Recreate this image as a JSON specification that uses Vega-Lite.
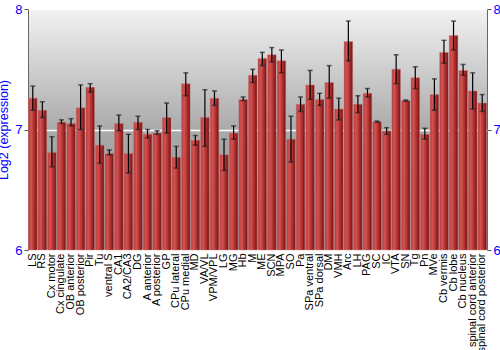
{
  "$schema": "https://vega.github.io/schema/vega-lite/v6.json",
  "autosize": "none",
  "padding": {"left": 28, "top": 9, "right": 13, "bottom": 100},
  "width": 459,
  "height": 241,
  "config": {
    "view": {
      "stroke": "#666666",
      "strokeWidth": 1,
      "fill": {"gradient": "linear", "x1": 0, "y1": 0, "x2": 0, "y2": 1,
        "stops": [{"offset": 0, "color": "#f2f2f2"}, {"offset": 0.5, "color": "#aaaaaa"}, {"offset": 1, "color": "#8c8c8c"}]}
    },
    "font": "Liberation Sans"
  },
  "data": {"values": [
    {"region": "LS", "value": 7.26, "lo": 7.16, "hi": 7.36},
    {"region": "RS", "value": 7.16, "lo": 7.10, "hi": 7.23},
    {"region": "Cx motor", "value": 6.81, "lo": 6.69, "hi": 6.94},
    {"region": "Cx cingulate", "value": 7.06, "lo": 7.05, "hi": 7.08},
    {"region": "OB anterior", "value": 7.05, "lo": 7.03, "hi": 7.09},
    {"region": "OB posterior", "value": 7.18, "lo": 7.0, "hi": 7.37},
    {"region": "Pir", "value": 7.35, "lo": 7.31, "hi": 7.38},
    {"region": "Tu", "value": 6.87, "lo": 6.72, "hi": 7.03},
    {"region": "ventral S", "value": 6.80, "lo": 6.79, "hi": 6.83},
    {"region": "CA1", "value": 7.05, "lo": 6.99, "hi": 7.12},
    {"region": "CA2/CA3", "value": 6.80, "lo": 6.64, "hi": 6.96},
    {"region": "DG", "value": 7.06, "lo": 7.0, "hi": 7.11},
    {"region": "A anterior", "value": 6.96, "lo": 6.93, "hi": 7.0},
    {"region": "A posterior", "value": 6.97, "lo": 6.96, "hi": 6.99},
    {"region": "GP", "value": 7.10, "lo": 6.97, "hi": 7.22},
    {"region": "CPu lateral", "value": 6.77, "lo": 6.68, "hi": 6.86},
    {"region": "CPu medial", "value": 7.38, "lo": 7.28, "hi": 7.47},
    {"region": "MD", "value": 6.91, "lo": 6.87, "hi": 6.95},
    {"region": "VA/VL", "value": 7.10, "lo": 6.86, "hi": 7.33},
    {"region": "VPM/VPL", "value": 7.26, "lo": 7.20, "hi": 7.32},
    {"region": "LG", "value": 6.79, "lo": 6.66, "hi": 6.92},
    {"region": "MG", "value": 6.97, "lo": 6.92, "hi": 7.03},
    {"region": "Hb", "value": 7.25, "lo": 7.24, "hi": 7.27},
    {"region": "M", "value": 7.45, "lo": 7.39, "hi": 7.50},
    {"region": "ME", "value": 7.59, "lo": 7.53, "hi": 7.64},
    {"region": "SCN", "value": 7.62, "lo": 7.56, "hi": 7.68},
    {"region": "MPA", "value": 7.57, "lo": 7.47, "hi": 7.66},
    {"region": "SO", "value": 6.92, "lo": 6.73, "hi": 7.11},
    {"region": "Pa", "value": 7.21, "lo": 7.15, "hi": 7.27},
    {"region": "SPa ventral", "value": 7.37, "lo": 7.25, "hi": 7.49},
    {"region": "SPa dorsal", "value": 7.25, "lo": 7.20, "hi": 7.30},
    {"region": "DM", "value": 7.39, "lo": 7.26, "hi": 7.53},
    {"region": "VMH", "value": 7.17, "lo": 7.08, "hi": 7.26},
    {"region": "Arc", "value": 7.73, "lo": 7.57, "hi": 7.90},
    {"region": "LH", "value": 7.21, "lo": 7.14, "hi": 7.28},
    {"region": "PAG", "value": 7.30, "lo": 7.27, "hi": 7.34},
    {"region": "SC", "value": 7.065, "lo": 7.06, "hi": 7.07},
    {"region": "IC", "value": 6.99, "lo": 6.96, "hi": 7.015},
    {"region": "VTA", "value": 7.50, "lo": 7.38, "hi": 7.62},
    {"region": "SN", "value": 7.24, "lo": 7.235, "hi": 7.245},
    {"region": "Tg", "value": 7.43, "lo": 7.34, "hi": 7.52},
    {"region": "Pn", "value": 6.96, "lo": 6.92, "hi": 7.01},
    {"region": "MVe", "value": 7.29, "lo": 7.16, "hi": 7.42},
    {"region": "Cb vermis", "value": 7.64, "lo": 7.55, "hi": 7.74},
    {"region": "Cb lobe", "value": 7.78, "lo": 7.66, "hi": 7.90},
    {"region": "Cb nucleus", "value": 7.49, "lo": 7.45, "hi": 7.54},
    {"region": "spinal cord anterior", "value": 7.32, "lo": 7.17, "hi": 7.47},
    {"region": "spinal cord posterior", "value": 7.22, "lo": 7.15, "hi": 7.29}
  ]},
  "encoding": {
    "x": {
      "field": "region", "type": "nominal", "sort": null,
      "scale": {"paddingInner": 0.1, "paddingOuter": 0.05},
      "axis": {"title": null, "labelAngle": -90, "labelColor": "black", "labelFontSize": 11,
        "ticks": false, "domain": false, "labelPadding": 3}
    }
  },
  "layer": [
    {
      "mark": {"type": "bar", "stroke": "#d08080", "strokeWidth": 0.6, "strokeOpacity": 0.7,
        "fill": {"gradient": "linear", "x1": 0, "y1": 0, "x2": 1, "y2": 0,
          "stops": [{"offset": 0, "color": "#b53a3a"}, {"offset": 0.3, "color": "#d45252"}, {"offset": 0.7, "color": "#a82a2a"}, {"offset": 1, "color": "#701010"}]}},
      "encoding": {
        "y": {"field": "value", "type": "quantitative",
          "scale": {"domain": [6, 8], "zero": false, "nice": false},
          "axis": {"title": "Log2 (expression)", "titleColor": "blue", "titleFont": "Liberation Sans", "titleFontWeight": "normal", "titleFontSize": 12.5, "titlePadding": 4,
            "tickCount": 2, "format": "d", "labelColor": "blue", "labelFontSize": 13, "tickColor": "#555555", "tickSize": 4, "domain": false,
            "grid": true, "gridColor": "white", "gridWidth": 1.5, "gridOpacity": 1, "labelPadding": 2, "labelOverlap": false}},
        "y2": {"datum": 6}
      }
    },
    {
      "mark": {"type": "rule", "color": "black", "strokeWidth": 1.2},
      "encoding": {
        "y": {"field": "lo", "type": "quantitative", "scale": {"domain": [6, 8], "zero": false, "nice": false},
          "axis": {"orient": "right", "title": null, "tickCount": 2, "format": "d", "labelColor": "blue", "labelFontSize": 13, "tickColor": "#555555", "tickSize": 4, "domain": false, "grid": false, "labelPadding": 2, "labelOverlap": false}},
        "y2": {"field": "hi"}
      }
    },
    {
      "mark": {"type": "tick", "color": "#222222", "size": 5, "thickness": 1.5},
      "encoding": {"y": {"field": "lo", "type": "quantitative", "axis": null}}
    },
    {
      "mark": {"type": "tick", "color": "#222222", "size": 5, "thickness": 1.5},
      "encoding": {"y": {"field": "hi", "type": "quantitative", "axis": null}}
    }
  ],
  "resolve": {"scale": {"y": "shared"}, "axis": {"y": "independent"}}
}
